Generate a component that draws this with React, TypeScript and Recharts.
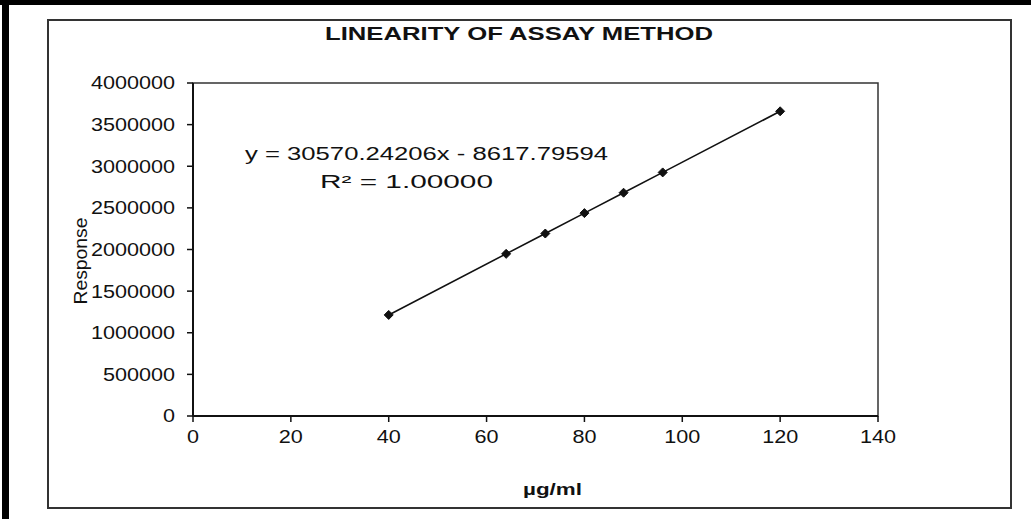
import React from "react";
import {
  LineChart,
  Line,
  XAxis,
  YAxis,
  ReferenceArea,
} from "recharts";

// concentration (µg/ml) and detector response
const conc = [40, 64, 72, 80, 88, 96, 120];
const response = [1214000, 1948000, 2192000, 2437000, 2682000, 2926000, 3660000];

const xTicks = [0, 20, 40, 60, 80, 100, 120, 140];
const yTicks = [0, 500000, 1000000, 1500000, 2000000, 2500000, 3000000, 3500000, 4000000];

const title = "LINEARITY OF ASSAY METHOD";
const equation = "y = 30570.24206x - 8617.79594";
const rSquared = "R\u00b2 = 1.00000";
const xLabel = "\u00b5g/ml";
const yLabel = "Response";

const data = conc.map((c, i) => ({ conc: c, response: response[i] }));

const FONT = "Liberation Sans, Arial, sans-serif";
const INK = "#111";
// the scanned figure is stretched sideways; widen glyphs to match
const STRETCH = 1.2;

const Diamond = (props: any) => {
  const { cx, cy } = props;
  if (cx == null || cy == null) return null;
  const r = 4.5;
  return (
    <polygon
      points={`${cx},${cy - r} ${cx + r},${cy} ${cx},${cy + r} ${cx - r},${cy}`}
      fill={INK}
      stroke={INK}
      strokeWidth={1}
    />
  );
};

const Tick = (props: any) => {
  const { x, y, payload, textAnchor, verticalAnchor } = props;
  const dy = verticalAnchor === "start" ? "0.71em" : "0.355em";
  return (
    <g transform={`translate(${x},${y})`}>
      <text
        transform={`scale(${STRETCH},1)`}
        textAnchor={textAnchor}
        dy={dy}
        fontFamily={FONT}
        fontSize={18}
        fill={INK}
      >
        {payload.value}
      </text>
    </g>
  );
};

const App: React.FC = () => {
  return (
    <div
      style={{
        position: "absolute",
        left: 0,
        top: 0,
        width: 1031,
        height: 519,
        background: "#fff",
        overflow: "hidden",
      }}
    >
      {/* scanned page frame */}
      <div style={{ position: "absolute", left: 0, top: 0, width: 1031, height: 5, background: "#000" }} />
      <div style={{ position: "absolute", left: 2, top: 0, width: 7, height: 519, background: "#000" }} />
      {/* chart area border */}
      <div
        style={{
          position: "absolute",
          left: 47,
          top: 19,
          width: 965,
          height: 490,
          border: "2px solid #333",
          boxSizing: "border-box",
        }}
      />

      <div style={{ position: "absolute", left: 0, top: 0 }}>
        <LineChart
          width={1031}
          height={519}
          data={data}
          margin={{ top: 83, right: 153, left: 0, bottom: 0 }}
        >
          <XAxis
            dataKey="conc"
            type="number"
            domain={[0, 140]}
            ticks={xTicks}
            interval={0}
            height={103}
            tickSize={6}
            tickMargin={8}
            tick={<Tick />}
            axisLine={{ stroke: INK, strokeWidth: 2 }}
            tickLine={{ stroke: INK, strokeWidth: 1.5 }}
          />
          <YAxis
            type="number"
            domain={[0, 4000000]}
            ticks={yTicks}
            interval={0}
            width={193}
            tickSize={6}
            tickMargin={12}
            tick={<Tick />}
            axisLine={{ stroke: INK, strokeWidth: 2 }}
            tickLine={{ stroke: INK, strokeWidth: 1.5 }}
          />
          <ReferenceArea
            x1={0}
            x2={140}
            y1={0}
            y2={4000000}
            fill="none"
            stroke="#333"
            strokeWidth={1.5}
          />
          <Line
            type="linear"
            dataKey="response"
            stroke={INK}
            strokeWidth={1.6}
            dot={<Diamond />}
            activeDot={false}
            isAnimationActive={false}
          />
        </LineChart>
      </div>

      {/* titles and regression annotation */}
      <svg
        width={1031}
        height={519}
        style={{ position: "absolute", left: 0, top: 0, pointerEvents: "none" }}
      >
        <text
          x={325}
          y={40}
          fontFamily={FONT}
          fontWeight="bold"
          fontSize={18}
          fill={INK}
          textLength={388}
          lengthAdjust="spacingAndGlyphs"
        >
          {title}
        </text>
        <text
          x={245}
          y={160}
          fontFamily={FONT}
          fontSize={18}
          fill={INK}
          textLength={363}
          lengthAdjust="spacingAndGlyphs"
        >
          {equation}
        </text>
        <text
          x={320}
          y={188}
          fontFamily={FONT}
          fontSize={18}
          fill={INK}
          textLength={173}
          lengthAdjust="spacingAndGlyphs"
        >
          {rSquared}
        </text>
        <text
          x={523}
          y={495}
          fontFamily={FONT}
          fontWeight="bold"
          fontSize={17}
          fill={INK}
          textLength={59}
          lengthAdjust="spacingAndGlyphs"
        >
          {xLabel}
        </text>
        <text
          x={87}
          y={261}
          transform="rotate(-90 87 261)"
          textAnchor="middle"
          fontFamily={FONT}
          fontSize={18}
          fill={INK}
          textLength={87}
          lengthAdjust="spacingAndGlyphs"
        >
          {yLabel}
        </text>
      </svg>
    </div>
  );
};

export default App;
